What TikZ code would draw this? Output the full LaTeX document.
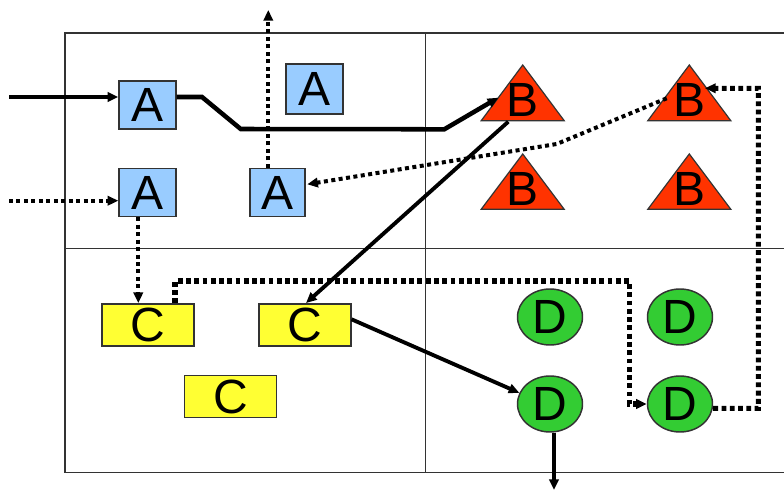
\documentclass[tikz,border=0pt]{standalone}
\usepackage{fontspec}
\setmainfont{Liberation Sans}
\usetikzlibrary{arrows.meta,calc,shapes.geometric}
\definecolor{boxA}{HTML}{99CCFF}
\definecolor{triB}{HTML}{FF3300}
\definecolor{boxC}{HTML}{FFFF33}
\definecolor{ellD}{HTML}{33CC33}
\definecolor{edge}{HTML}{333333}
\begin{document}
\begin{tikzpicture}[x=0.75pt,y=-0.75pt,
  lbl/.style={font=\fontsize{36}{36}\selectfont, inner sep=0pt},
  abox/.style={lbl, draw=edge, line width=1.1pt, fill=boxA, minimum width=42.75pt, minimum height=36pt},
  cbox/.style={lbl, draw=edge, line width=1.1pt, fill=boxC, minimum width=69pt, minimum height=31.5pt},
  dell/.style={lbl, ellipse, draw=edge, line width=1.1pt, fill=ellD, minimum width=48.75pt, minimum height=42pt},
  tri/.style={draw=edge, line width=0.9pt, fill=triB},
  grid/.style={draw=edge, line width=1.1pt},
  tip/.style={-{Triangle[length=8pt,width=7pt]}},
  solidarrow/.style={tip, line width=2.9pt},
  thickline/.style={line width=3.4pt},
  dotarrow/.style={tip, line width=3pt, dash pattern=on 3pt off 2.6pt},
  bigdot/.style={tip, line width=3.8pt, dash pattern=on 3.6pt off 2.6pt},
]
\useasboundingbox (0,0) rectangle (784,491);
% grid
\draw[grid] (784,33) -- (65,33) -- (65,472.7) -- (784,472.7);
\draw[grid] (425.7,33) -- (425.7,472.7);
\draw[grid] (65,248.3) -- (784,248.3);
% triangles
\draw[tri] (481.2,120.7) -- (522.7,65) -- (564.2,120.7) -- cycle;
\draw[tri] (647.8,120.7) -- (689.3,65) -- (730.8,120.7) -- cycle;
\draw[tri] (481.2,209.3) -- (522.7,154) -- (564.2,209.3) -- cycle;
\draw[tri] (647.8,209.3) -- (689.3,154) -- (730.8,209.3) -- cycle;
\node[lbl] (B1) at (522.7,100) {B};
\node[lbl] (B2) at (689.3,100) {B};
\node[lbl] (B3) at (522.7,189) {B};
\node[lbl] (B4) at (689.3,189) {B};
% A boxes
\node[abox] (A1) at (147.5,105) {A};
\node[abox, minimum height=37.5pt] (A2) at (314.3,89) {A};
\node[abox] (A3) at (147.5,192.5) {A};
\node[abox, minimum width=41.25pt] (A4) at (277.5,192.5) {A};
% C boxes
\node[cbox] (C1) at (148.2,324.8) {C};
\node[cbox] (C2) at (304.8,324.8) {C};
\node[cbox] (C3) at (230.7,396.7) {C};
% D ellipses
\node[dell] (D1) at (550,317) {D};
\node[dell] (D2) at (680,317) {D};
\node[dell] (D3) at (550,404) {D};
\node[dell] (D4) at (680,404) {D};
% free ends
\coordinate (in1) at (9,97);
\coordinate (in2) at (9,200.7);
\coordinate (out1) at (268.3,10);
\coordinate (out2) at (554,490);
\coordinate (k1) at (629.3,281);
\coordinate (k2) at (758.3,88.3);
% solid connectors
\draw[solidarrow] (in1) -- (in1 -| A1.west);
\draw[thickline, tip, line join=miter] ($(A1.east)+(0,-8)$) -- (202,97) -- (240.7,129) -- (444.3,129.3) -- ($(B1)+(-24.4,-2.3)$);
\draw[solidarrow] ($(B1)+(-14.4,21.7)$) -- ($(C2.north)+(1.2,0)$);
\draw[solidarrow] ($(C2.east)+(0,-5.5)$) -- (D3.160);
\draw[solidarrow] (D3.south -| out2) -- (out2);
% dotted connectors
\draw[dotarrow] (in2) -- (in2 -| A3.west);
\draw[dotarrow] ($(A3.south)+(-9.2,0)$) -- ($(C1.north)+(-9.9,0)$);
\draw[dotarrow] (A4.north -| out1) -- (out1);
\draw[dotarrow] ($(B2)+(-22.6,-1.7)$) -- (556.7,144) -- ($(A4.east)+(1.5,-8.2)$);
\draw[bigdot] ($(C1.north)+(26.8,0)$) |- (k1) |- (D4.west);
\draw[bigdot] ($(D4.east)+(0,4.3)$) -| (k2) -- ($(B2)+(15.7,-11.7)$);
\end{tikzpicture}
\end{document}
